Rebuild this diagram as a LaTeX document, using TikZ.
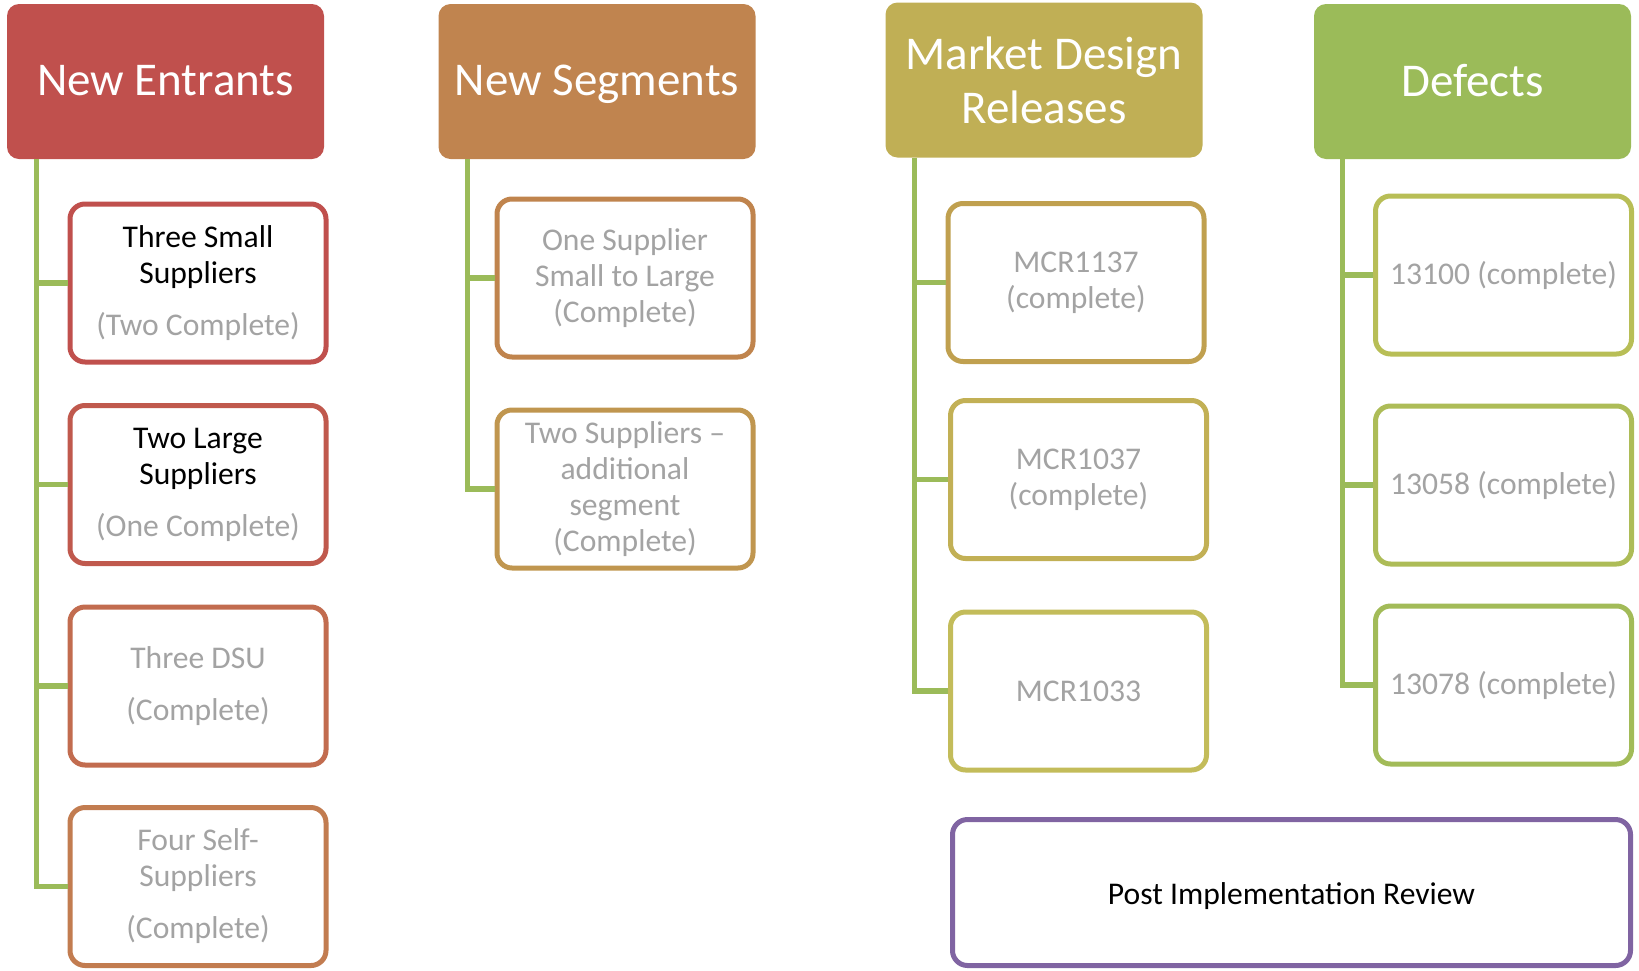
\documentclass[tikz,border=0pt]{standalone}
\usepackage{fontspec}
\setmainfont{Carlito}
\definecolor{neR}{HTML}{C0504D}
\definecolor{nsO}{HTML}{C0844F}
\definecolor{mdY}{HTML}{C0AF55}
\definecolor{dfG}{HTML}{9BBB59}
\definecolor{trunkG}{HTML}{9BBB59}
\definecolor{pirP}{HTML}{8064A2}
\definecolor{txtG}{HTML}{A3A3A3}
\definecolor{cA}{HTML}{C0504D}
\definecolor{cB}{HTML}{C0594D}
\definecolor{cC}{HTML}{C26C4F}
\definecolor{cD}{HTML}{C27C50}
\definecolor{cE}{HTML}{C0844D}
\definecolor{cF}{HTML}{C0964F}
\definecolor{cG}{HTML}{C0A04F}
\definecolor{cH}{HTML}{C2B055}
\definecolor{cI}{HTML}{C3BC5A}
\definecolor{cJ}{HTML}{B8BE56}
\definecolor{cK}{HTML}{ADBC57}
\definecolor{cL}{HTML}{A2BB58}
\newcommand{\lowr}[2]{\raisebox{-#1}[\height][\depth]{#2}}
\tikzset{
  header/.style={rectangle, rounded corners=6pt, inner sep=0pt,
    minimum width=158.5pt, minimum height=77.5pt, text=white,
    font=\fontsize{23.5}{27}\selectfont, align=center},
  child/.style={rectangle, rounded corners=7.5pt, draw, line width=2.5pt, fill=white,
    inner sep=0pt, minimum width=128pt, minimum height=79pt, text=txtG,
    font=\fontsize{15.8}{18}\selectfont, align=center},
  trunk/.style={draw=trunkG, line width=2.6pt}
}
\begin{document}
\begin{tikzpicture}[x=0.5pt,y=-0.5pt]
\useasboundingbox (0,0) rectangle (1639,970);
% headers
\node[header, fill=neR] (ne) at (165.5,81.5) {\lowr{1.5pt}{New Entrants\vphantom{g}}};
\node[header, fill=nsO] (ns) at (597,81.5) {\lowr{1.5pt}{New Segments}};
\node[header, fill=mdY] (md) at (1044,80) {Market Design\\Releases};
\node[header, fill=dfG] (df) at (1472.5,81.5) {\lowr{1.5pt}{Defects\vphantom{g}}};
% New Entrants children
\node[child, draw=cA] (ne1) at (198,283) {\textcolor{black}{Three Small}\\\textcolor{black}{Suppliers}\\[8pt](Two Complete)};
\node[child, draw=cB] (ne2) at (198,484.5) {\textcolor{black}{Two Large}\\\textcolor{black}{Suppliers}\\[8pt](One Complete)};
\node[child, draw=cC] (ne3) at (198,686) {Three DSU\\[8pt](Complete)};
\node[child, draw=cD] (ne4) at (198,886.5) {Four Self-\\Suppliers\\[8pt](Complete)};
% New Segments children
\node[child, draw=cE] (ns1) at (625,278) {One Supplier\\Small to Large\\(Complete)};
\node[child, draw=cF] (ns2) at (625,489) {Two Suppliers --\\additional\\segment\\(Complete)};
% Market Design children
\node[child, draw=cG] (md1) at (1076,282.5) {MCR1137\\(complete)};
\node[child, draw=cH] (md2) at (1078.5,479.5) {MCR1037\\(complete)};
\node[child, draw=cI] (md3) at (1078.5,691) {MCR1033};
% Defects children
\node[child, draw=cJ] (df1) at (1503.5,275) {13100 (complete)};
\node[child, draw=cK] (df2) at (1503.5,485) {13058 (complete)};
\node[child, draw=cL] (df3) at (1503.5,685) {13078 (complete)};
% PIR
\node[child, draw=pirP, text=black, minimum width=339pt, minimum height=73pt] (pir) at (1291.5,892.5) {\lowr{2pt}{Post Implementation Review}};
% trunk start points
\coordinate (tne) at ([xshift=15pt]ne.south west);
\coordinate (tns) at ([xshift=14.5pt]ns.south west);
\coordinate (tmd) at ([xshift=14.5pt]md.south west);
\coordinate (tdf) at ([xshift=14.5pt]df.south west);
\foreach \c in {ne1,ne2,ne3,ne4} \draw[trunk] (tne) |- (\c.west);
\foreach \c in {ns1,ns2} \draw[trunk] (tns) |- (\c.west);
\foreach \c in {md1,md2,md3} \draw[trunk] (tmd) |- (\c.west);
\foreach \c in {df1,df2,df3} \draw[trunk] (tdf) |- (\c.west);
\end{tikzpicture}
\end{document}
